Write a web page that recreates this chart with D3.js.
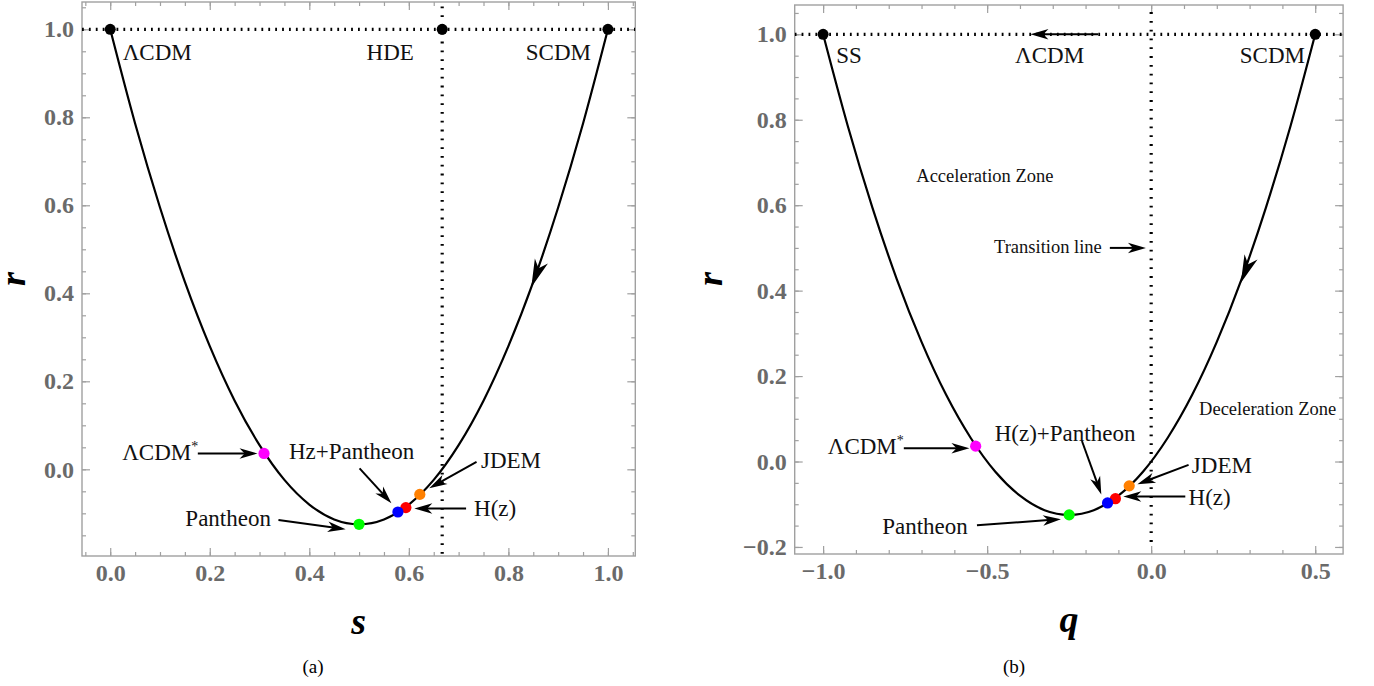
<!DOCTYPE html>
<html>
<head>
<meta charset="utf-8">
<script src="https://cdn.jsdelivr.net/npm/d3@7"></script>
<style>
  body { margin: 0; background: #fff; }
  text { font-family: "Liberation Serif", "Times New Roman", serif; }
</style>
</head>
<body>
<script>
// ---- data ----

// r along the trajectory (same r values in both panels)
const sCurve = [0, 0.05, 0.1, 0.15, 0.2, 0.25, 0.3, 0.35, 0.4, 0.45, 0.5,
                0.55, 0.6, 0.65, 0.7, 0.75, 0.8, 0.85, 0.9, 0.95, 1];
const qCurve = [-1, -0.925, -0.85, -0.775, -0.7, -0.625, -0.55, -0.475, -0.4, -0.325, -0.25,
                -0.175, -0.1, -0.025, 0.05, 0.125, 0.2, 0.275, 0.35, 0.425, 0.5];
const rCurve = [1, 0.786, 0.595, 0.426, 0.28, 0.156, 0.055, -0.024, -0.08, -0.114, -0.125,
                -0.114, -0.08, -0.024, 0.055, 0.156, 0.28, 0.426, 0.595, 0.786, 1];

// coloured estimates: LCDM*, Pantheon, H(z), JDEM, Hz+Pantheon
const pointNames  = ["LCDM*", "Pantheon", "H(z)", "JDEM", "Hz+Pantheon"];
const pointColors = ["#ff00ff", "#00ff00", "#ff0000", "#ff8000", "#0000ff"];
const sPoints = [0.309, 0.5, 0.594, 0.622, 0.578];
const qPoints = [-0.535, -0.25, -0.109, -0.067, -0.133];
const rPoints = [0.036, -0.125, -0.087, -0.057, -0.097];

// fixed points on r = 1
const sFixed = [0, 0.667, 1];
const qFixed = [-1, 0.5];
const rFixed = 1;
const sLine = 0.667;   // HDE vertical line
const qLine = 0;       // transition line

// direction arrow on the right branch
const sArrowTip = [0.846, 0.414];
const qArrowTip = [0.273, 0.418];

// ticks
const sTicks = [0, 0.2, 0.4, 0.6, 0.8, 1.0];
const sMinor = d3.range(-0.05, 1.051, 0.05);
const rTicksA = [0, 0.2, 0.4, 0.6, 0.8, 1.0];
const rMinorA = d3.range(-0.15, 1.051, 0.05);
const qTicks = [-1, -0.5, 0, 0.5];
const qMinor = d3.range(-1, 0.51, 0.1);
const rTicksB = [-0.2, 0, 0.2, 0.4, 0.6, 0.8, 1.0];
const rMinorB = d3.range(-0.2, 1.051, 0.05);

// annotations [text, x, r, anchor, small, superscript]
const labelsA = [
  ["ΛCDM", 0.025, 0.930, "start"],
  ["HDE", 0.610, 0.930, "end"],
  ["SCDM", 0.966, 0.930, "end"],
  ["ΛCDM", 0.024, 0.021, "start", false, "*"],
  ["Hz+Pantheon", 0.359, 0.023, "start"],
  ["JDEM", 0.745, 0.004, "start"],
  ["H(z)", 0.731, -0.105, "start"],
  ["Pantheon", 0.151, -0.129, "start"]
];
const arrowsA = [
  [0.176, 0.036, 0.296, 0.036],
  [0.501, 0.002, 0.565, -0.077],
  [0.736, 0.017, 0.641, -0.043],
  [0.715, -0.089, 0.611, -0.089],
  [0.338, -0.115, 0.473, -0.136]
];
const labelsB = [
  ["SS", -0.960, 0.932, "start"],
  ["ΛCDM", -0.415, 0.932, "start"],
  ["SCDM", 0.469, 0.932, "end"],
  ["Acceleration Zone", -0.716, 0.655, "start", true],
  ["Transition line", -0.479, 0.487, "start", true],
  ["Deceleration Zone", 0.146, 0.109, "start", true],
  ["ΛCDM", -0.986, 0.018, "start", false, "*"],
  ["H(z)+Pantheon", -0.477, 0.049, "start"],
  ["JDEM", 0.124, -0.026, "start"],
  ["H(z)", 0.114, -0.102, "start"],
  ["Pantheon", -0.820, -0.170, "start"]
];
const arrowsB = [
  [-0.162, 1, -0.368, 1],
  [-0.126, 0.5, -0.016, 0.5],
  [-0.754, 0.031, -0.554, 0.031],
  [-0.211, 0.048, -0.152, -0.077],
  [0.114, -0.008, -0.042, -0.053],
  [0.104, -0.082, -0.085, -0.082],
  [-0.531, -0.149, -0.275, -0.135]
];

// ---- drawing ----

const svg = d3.select("body").append("svg")
  .attr("width", 1374)
  .attr("height", 686);

const fmt = d => d3.format(".1f")(d).replace("-", "−");

// notched arrowhead, tip at the origin pointing along +x
function headPath(len, wid) {
  return "M0,0L" + (-len) + "," + (-wid / 2) + "L" + (-len * 0.72) + ",0L" + (-len) + "," + (wid / 2) + "Z";
}

function drawArrow(g, x1, y1, x2, y2, len, wid) {
  const ang = Math.atan2(y2 - y1, x2 - x1);
  const back = len * 0.7;
  g.append("line")
    .attr("x1", x1).attr("y1", y1)
    .attr("x2", x2 - back * Math.cos(ang)).attr("y2", y2 - back * Math.sin(ang))
    .attr("stroke", "#000").attr("stroke-width", 2);
  g.append("path")
    .attr("d", headPath(len, wid))
    .attr("transform", "translate(" + x2 + "," + y2 + ") rotate(" + (ang * 180 / Math.PI) + ")")
    .attr("fill", "#000");
}

function panel(cfg) {
  const x = d3.scaleLinear().domain(cfg.xDomain).range([cfg.left, cfg.right]);
  const y = d3.scaleLinear().domain(cfg.yDomain).range([cfg.bottom, cfg.top]);
  const g = svg.append("g").attr("class", "panel-" + cfg.id);

  const clipId = "clip-" + cfg.id;
  g.append("clipPath").attr("id", clipId)
    .append("rect")
    .attr("x", cfg.left).attr("y", cfg.top)
    .attr("width", cfg.right - cfg.left).attr("height", cfg.bottom - cfg.top);

  // axes: inward ticks on all four sides
  const tickCol = "#a0a0a0";
  function axis(a, tr, vals, size, labels) {
    const ax = g.append("g").attr("transform", tr)
      .call(a.tickValues(vals).tickSizeInner(-size).tickSizeOuter(0)
        .tickPadding(labels ? cfg.pad : 0)
        .tickFormat(labels ? fmt : ""));
    ax.select(".domain").remove();
    ax.selectAll("line").attr("stroke", tickCol).attr("stroke-width", 1.2);
    ax.selectAll("text")
      .attr("fill", "#6a6a6a")
      .style("font-family", "'Liberation Serif', serif")
      .style("font-weight", "bold")
      .style("font-size", "24px");
  }
  axis(d3.axisBottom(x), "translate(0," + cfg.bottom + ")", cfg.xTicks, 8, true);
  axis(d3.axisBottom(x), "translate(0," + cfg.bottom + ")", cfg.xMinor, 4, false);
  axis(d3.axisTop(x), "translate(0," + cfg.top + ")", cfg.xTicks, 8, false);
  axis(d3.axisTop(x), "translate(0," + cfg.top + ")", cfg.xMinor, 4, false);
  axis(d3.axisLeft(y), "translate(" + cfg.left + ",0)", cfg.yTicks, 8, true);
  axis(d3.axisLeft(y), "translate(" + cfg.left + ",0)", cfg.yMinor, 4, false);
  axis(d3.axisRight(y), "translate(" + cfg.right + ",0)", cfg.yTicks, 8, false);
  axis(d3.axisRight(y), "translate(" + cfg.right + ",0)", cfg.yMinor, 4, false);

  g.append("rect")
    .attr("x", cfg.left).attr("y", cfg.top)
    .attr("width", cfg.right - cfg.left).attr("height", cfg.bottom - cfg.top)
    .attr("fill", "none").attr("stroke", tickCol).attr("stroke-width", 1.4);

  const plot = g.append("g").attr("clip-path", "url(#" + clipId + ")");

  // dotted reference lines
  plot.append("line")
    .attr("x1", cfg.left).attr("x2", cfg.right)
    .attr("y1", y(rFixed)).attr("y2", y(rFixed))
    .attr("stroke", "#000").attr("stroke-width", 3.2)
    .attr("stroke-dasharray", "1.8,5.1");
  plot.append("line")
    .attr("x1", x(cfg.vLine)).attr("x2", x(cfg.vLine))
    .attr("y1", y(1.052)).attr("y2", y(-0.2))
    .attr("stroke", "#000").attr("stroke-width", 3.2)
    .attr("stroke-dasharray", "1.8,7");

  // trajectory
  const pts = cfg.xCurve.map((v, i) => [v, rCurve[i]]);
  plot.append("path")
    .datum(pts)
    .attr("d", d3.line().x(d => x(d[0])).y(d => y(d[1])).curve(d3.curveCatmullRom.alpha(0)))
    .attr("fill", "none").attr("stroke", "#000").attr("stroke-width", 2.2);

  // direction arrowhead on the right branch
  const tip = cfg.arrowTip;
  let k = 0;
  while (k < cfg.xCurve.length - 2 && cfg.xCurve[k + 1] < tip[0]) k++;
  const ang = Math.atan2(y(rCurve[k]) - y(rCurve[k + 1]), x(cfg.xCurve[k]) - x(cfg.xCurve[k + 1]));
  plot.append("path")
    .attr("d", headPath(28, 14))
    .attr("transform", "translate(" + x(tip[0]) + "," + y(tip[1]) + ") rotate(" + (ang * 180 / Math.PI) + ")")
    .attr("fill", "#000");

  // fixed points
  plot.selectAll(".fixed").data(cfg.fixed).enter().append("circle")
    .attr("class", "fixed")
    .attr("cx", d => x(d)).attr("cy", y(rFixed)).attr("r", 5.5)
    .attr("fill", "#000");

  // coloured estimates
  plot.selectAll(".est").data(cfg.xPoints).enter().append("circle")
    .attr("class", "est")
    .attr("cx", d => x(d)).attr("cy", (d, i) => y(rPoints[i])).attr("r", 5.6)
    .attr("fill", (d, i) => pointColors[i]);

  // annotation arrows
  cfg.arrows.forEach(a => drawArrow(g, x(a[0]), y(a[1]), x(a[2]), y(a[3]), 18, 10.5));

  // annotation text
  cfg.labels.forEach(l => {
    const t = g.append("text")
      .attr("x", x(l[1])).attr("y", y(l[2]))
      .attr("text-anchor", l[3])
      .style("font-size", l[4] ? "18.5px" : "23px")
      .attr("fill", "#111")
      .text(l[0]);
    if (l[5]) {
      t.append("tspan").attr("dy", -9).style("font-size", "14px").text(l[5]);
    }
  });

  // axis titles
  g.append("text")
    .attr("transform", "translate(" + cfg.yTitleX + ",279) rotate(-90)")
    .attr("text-anchor", "middle")
    .style("font-size", "36px").style("font-weight", "bold").style("font-style", "italic")
    .text("r");
  g.append("text")
    .attr("x", (cfg.left + cfg.right) / 2 + cfg.xTitleShift).attr("y", cfg.xTitleY)
    .attr("text-anchor", "middle")
    .style("font-size", "38px").style("font-weight", "bold").style("font-style", "italic")
    .text(cfg.xTitle);
  g.append("text")
    .attr("x", cfg.captionX).attr("y", 673)
    .attr("text-anchor", "middle")
    .style("font-size", "19px")
    .text(cfg.caption);
}

panel({
  id: "a", left: 82, right: 635.3, top: 2, bottom: 556,
  xDomain: [-0.0567, 1.055], yDomain: [-0.197, 1.062], pad: 8,
  xTicks: sTicks, xMinor: sMinor, yTicks: rTicksA, yMinor: rMinorA,
  xCurve: sCurve, xPoints: sPoints, fixed: sFixed, vLine: sLine,
  arrowTip: sArrowTip, labels: labelsA, arrows: arrowsA,
  yTitleX: 25, xTitle: "s", xTitleShift: 0, xTitleY: 634,
  caption: "(a)", captionX: 313
});

panel({
  id: "b", left: 794.7, right: 1343.1, top: 5, bottom: 554,
  xDomain: [-1.0866, 0.585], yDomain: [-0.2165, 1.0686], pad: 8,
  xTicks: qTicks, xMinor: qMinor, yTicks: rTicksB, yMinor: rMinorB,
  xCurve: qCurve, xPoints: qPoints, fixed: qFixed, vLine: qLine,
  arrowTip: qArrowTip, labels: labelsB, arrows: arrowsB,
  yTitleX: 722, xTitle: "q", xTitleShift: 0, xTitleY: 632,
  caption: "(b)", captionX: 1014
});
</script>
</body>
</html>
